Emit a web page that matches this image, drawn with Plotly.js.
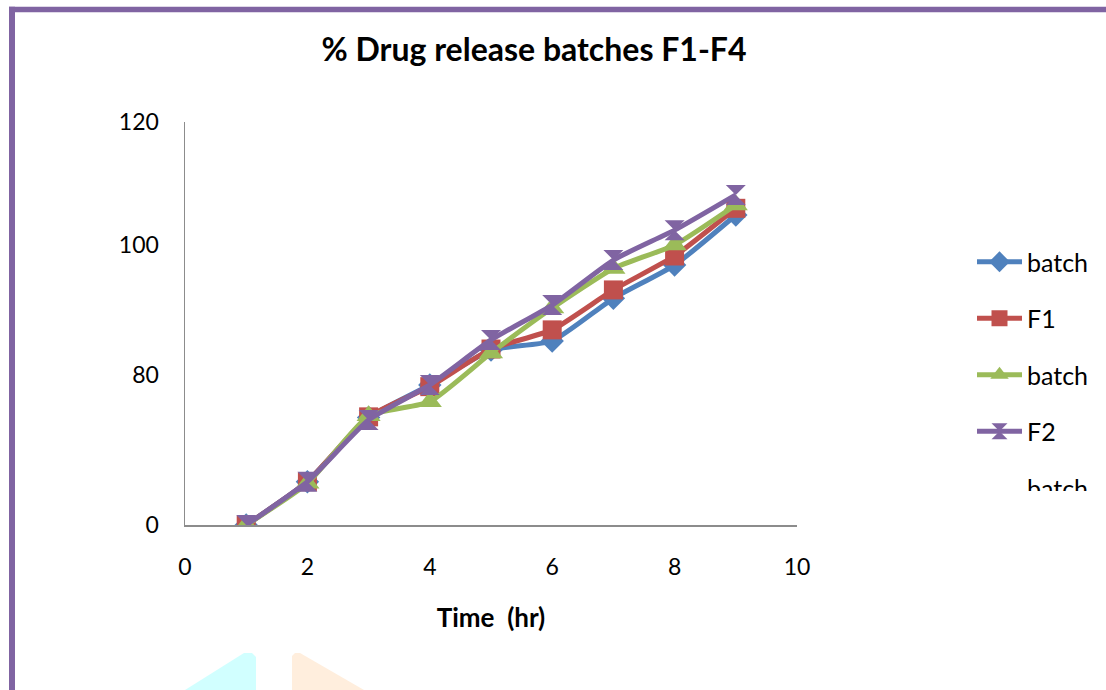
<!DOCTYPE html>
<html>
<head>
<meta charset="utf-8">
<script src="https://cdn.plot.ly/plotly-3.0.1.min.js"></script>
<style>html,body{margin:0;padding:0;background:#fff;}#chart{width:1106px;height:690px;}</style>
</head>
<body>
<div id="chart"></div>
<script>
// ---- data (time in hr, values read in the chart's own vertical units) ----
const timeHr = [1, 2, 3, 4, 5, 6, 7, 8, 9];
const seriesNames = ['batch', 'F1', 'batch', 'F2'];
const seriesBlue   = [0, 12.9, 32.0, 41.7, 52.1, 54.8, 67.5, 77.4, 92.3];
const seriesRed    = [0, 12.9, 32.2, 41.2, 52.4, 58.1, 70.0, 80.1, 94.3];
const seriesGreen  = [0, 12.4, 32.5, 36.7, 51.2, 64.6, 76.4, 83.4, 95.3];
const seriesPurple = [0, 12.9, 31.3, 41.7, 55.1, 65.5, 78.9, 87.8, 98.3];
const xTickVals = [0, 2, 4, 6, 8, 10];
const yTickVals = [0, 44.7, 83.4, 120];
const yTickText = ['0', '80', '100', '120'];
const clippedLegendText = 'batch';

// ---- layout helpers (pixel -> paper) ----
const W = 1106, H = 690;
const PL = 185, PR = 797, PT = 122, PB = 525;
const px = v => (v - PL) / (PR - PL);
const py = v => (PB - v) / (PB - PT);
const FONT = 'Lato, "Open Sans", sans-serif';
const C = {blue: '#4F81BD', red: '#C0504D', green: '#9BBB59', purple: '#8064A2'};

function mk(y, name, color, symbol, size, group) {
  return {
    x: timeHr, y: y, name: name, type: 'scatter', mode: 'lines+markers',
    legendgroup: group,
    line: {color: color, width: 5, shape: 'spline', smoothing: 0.5},
    marker: {color: color, symbol: symbol, size: size, line: {width: 0}}
  };
}

const traces = [
  mk(seriesBlue, seriesNames[0], C.blue, 'diamond', 18, 'g1'),
  mk(seriesRed, seriesNames[1], C.red, 'square', 19, 'g2'),
  mk(seriesGreen, seriesNames[2], C.green, 'triangle-up', 21, 'g3'),
  mk(seriesPurple, seriesNames[3], C.purple, 'hourglass', 20, 'g4')
];

function rectPx(x0, y0, x1, y1, color) {
  return {type: 'rect', xref: 'paper', yref: 'paper', layer: 'below',
    x0: px(x0), x1: px(x1), y0: py(y0), y1: py(y1),
    fillcolor: color, line: {width: 0}};
}
function pathPx(pts, color) {
  let d = pts.map((p, i) => (i ? 'L' : 'M') + px(p[0]) + ',' + py(p[1])).join(' ') + ' Z';
  return {type: 'path', xref: 'paper', yref: 'paper', layer: 'below', path: d,
    fillcolor: color, line: {width: 0}};
}

const layout = {
  width: W, height: H,
  paper_bgcolor: '#ffffff', plot_bgcolor: '#ffffff',
  margin: {l: PL, r: W - PR, t: PT, b: H - PB, pad: 0},
  font: {family: FONT, color: '#000000', size: 23},
  title: {
    text: '% Drug release batches F1-F4',
    font: {family: FONT, size: 32, weight: 'bold', color: '#000'},
    xref: 'container', yref: 'container', x: 534 / W, xanchor: 'center',
    y: 1 - 50 / H, yanchor: 'middle'
  },
  xaxis: {
    range: [0, 10], tickvals: xTickVals, ticktext: xTickVals.map(String),
    showgrid: false, zeroline: false, showline: true, linecolor: '#8c8c8c', linewidth: 1.5,
    ticks: '', ticklabelstandoff: 21, tickfont: {size: 23, family: FONT},
    title: {text: 'Time\u00a0\u00a0(hr)', font: {size: 26, weight: 'bold', family: FONT}, standoff: 29}
  },
  yaxis: {
    range: [0, 120], tickvals: yTickVals, ticktext: yTickText,
    showgrid: false, zeroline: false, showline: true, linecolor: '#8c8c8c', linewidth: 1.5,
    ticks: '', ticklabelstandoff: 20, tickfont: {size: 23, family: FONT}
  },
  showlegend: true,
  legend: {
    xref: 'container', yref: 'container', x: 972 / W, xanchor: 'left',
    y: 1 - 239 / H, yanchor: 'top', traceorder: 'grouped', tracegroupgap: 21,
    itemwidth: 45,
    font: {size: 25, family: FONT}, bgcolor: 'rgba(0,0,0,0)', borderwidth: 0
  },
  annotations: [{
    text: clippedLegendText, xref: 'paper', yref: 'paper',
    x: px(1026), xanchor: 'left', y: py(472), yanchor: 'top',
    width: 72, height: 18, valign: 'top', align: 'left', showarrow: false,
    borderpad: 0, font: {size: 25, family: FONT}
  }],
  shapes: [
    rectPx(9, 6.7, W, 12.3, C.purple),
    rectPx(9, 6.7, 15, H + 2, C.purple),
    pathPx([[185, 690], [244, 653], [252, 653], [256, 657], [256, 690]], '#D1FFFF'),
    pathPx([[292, 690], [292, 656], [295, 653], [300, 653], [364, 690]], '#FFEEDD')
  ]
};

Plotly.newPlot('chart', traces, layout, {displayModeBar: false, staticPlot: true});
</script>
</body>
</html>
